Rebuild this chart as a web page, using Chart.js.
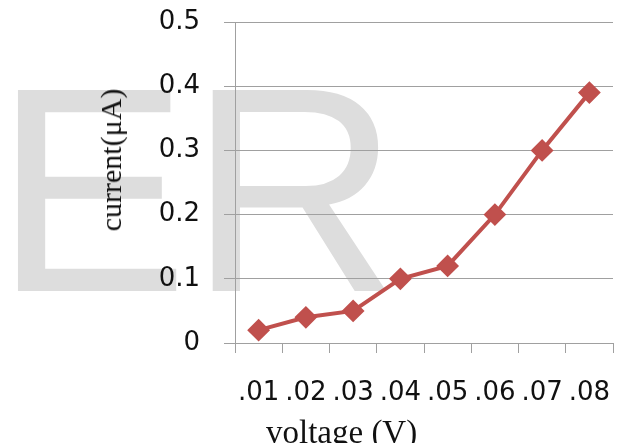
<!DOCTYPE html>
<html>
<head>
<meta charset="utf-8">
<script src="https://cdn.jsdelivr.net/npm/chart.js@4"></script>
<style>
  body { margin: 0; background: #fff; }
  #wrap { position: relative; width: 618px; height: 443px; overflow: hidden; }
  #mark { position: absolute; left: -6px; top: 44px; font-family: "Liberation Sans", Arial, sans-serif;
          font-size: 292px; line-height: 1; color: #dddddd; white-space: nowrap; z-index: 0; }
  #chartBox { position: absolute; left: 0; top: 0; width: 625px; height: 443px; z-index: 1; }
  .axisTitle { position: absolute; font-family: "Liberation Serif", "Times New Roman", serif;
               color: #111; white-space: nowrap; line-height: 1; z-index: 2; }
  #ytitle { left: 111px; top: 160px; font-size: 30px; transform: translate(-50%, -50%) rotate(-90deg); }
  #xtitle { left: 266px; top: 416px; font-size: 33px; }
</style>
</head>
<body>
<div id="wrap">
  <div id="mark">ER</div>
  <div id="chartBox"><canvas id="myChart"></canvas></div>
  <div id="ytitle" class="axisTitle">current(μA)</div>
  <div id="xtitle" class="axisTitle">voltage (V)</div>
</div>
<script>
var voltages = [".01", ".02", ".03", ".04", ".05", ".06", ".07", ".08"];
var currents = [0.02, 0.04, 0.05, 0.10, 0.12, 0.20, 0.30, 0.39];
var yTicks = [0, 0.1, 0.2, 0.3, 0.4, 0.5];

function generateChart() {
    var ctx = document.getElementById('myChart').getContext('2d');
    var tickFont = { family: 'DejaVu Sans', size: 26 };

    window.myLineChart = new Chart(ctx, {
        type: 'line',
        data: {
            labels: voltages,
            datasets: [{
                label: 'current',
                data: currents,
                borderColor: '#C0504D',
                backgroundColor: '#C0504D',
                borderWidth: 4,
                pointStyle: 'rectRot',
                pointRadius: 10,
                pointBorderWidth: 2,
                pointHoverRadius: 10,
                fill: false,
                tension: 0
            }]
        },
        options: {
            responsive: true,
            maintainAspectRatio: false,
            animation: false,
            layout: { padding: { top: 22, right: 4, left: 0, bottom: 0 } },
            plugins: {
                legend: { display: false },
                tooltip: { enabled: false }
            },
            scales: {
                x: {
                    offset: true,
                    grid: {
                        offset: true,
                        drawOnChartArea: false,
                        drawTicks: true,
                        tickLength: 10,
                        color: '#a0a0a0'
                    },
                    border: { color: '#a0a0a0' },
                    ticks: {
                        font: tickFont,
                        color: '#111',
                        padding: 25,
                        autoSkip: false,
                        maxRotation: 0,
                        minRotation: 0
                    },
                    afterFit: function (scale) {
                        scale.height = 100;
                        scale.paddingLeft = 0;
                        scale.paddingRight = 0;
                    }
                },
                y: {
                    min: yTicks[0],
                    max: yTicks[yTicks.length - 1],
                    grid: {
                        color: '#a0a0a0',
                        tickLength: 11
                    },
                    border: { color: '#a0a0a0' },
                    ticks: {
                        stepSize: 0.1,
                        font: tickFont,
                        color: '#111',
                        padding: 24
                    },
                    afterBuildTicks: function (scale) {
                        scale.ticks = yTicks.map(v => ({ value: v }));
                    },
                    afterFit: function (scale) {
                        scale.width = 235;
                        scale.paddingTop = 0;
                        scale.paddingBottom = 0;
                    }
                }
            }
        }
    });
}

document.addEventListener('DOMContentLoaded', generateChart);
</script>
</body>
</html>
